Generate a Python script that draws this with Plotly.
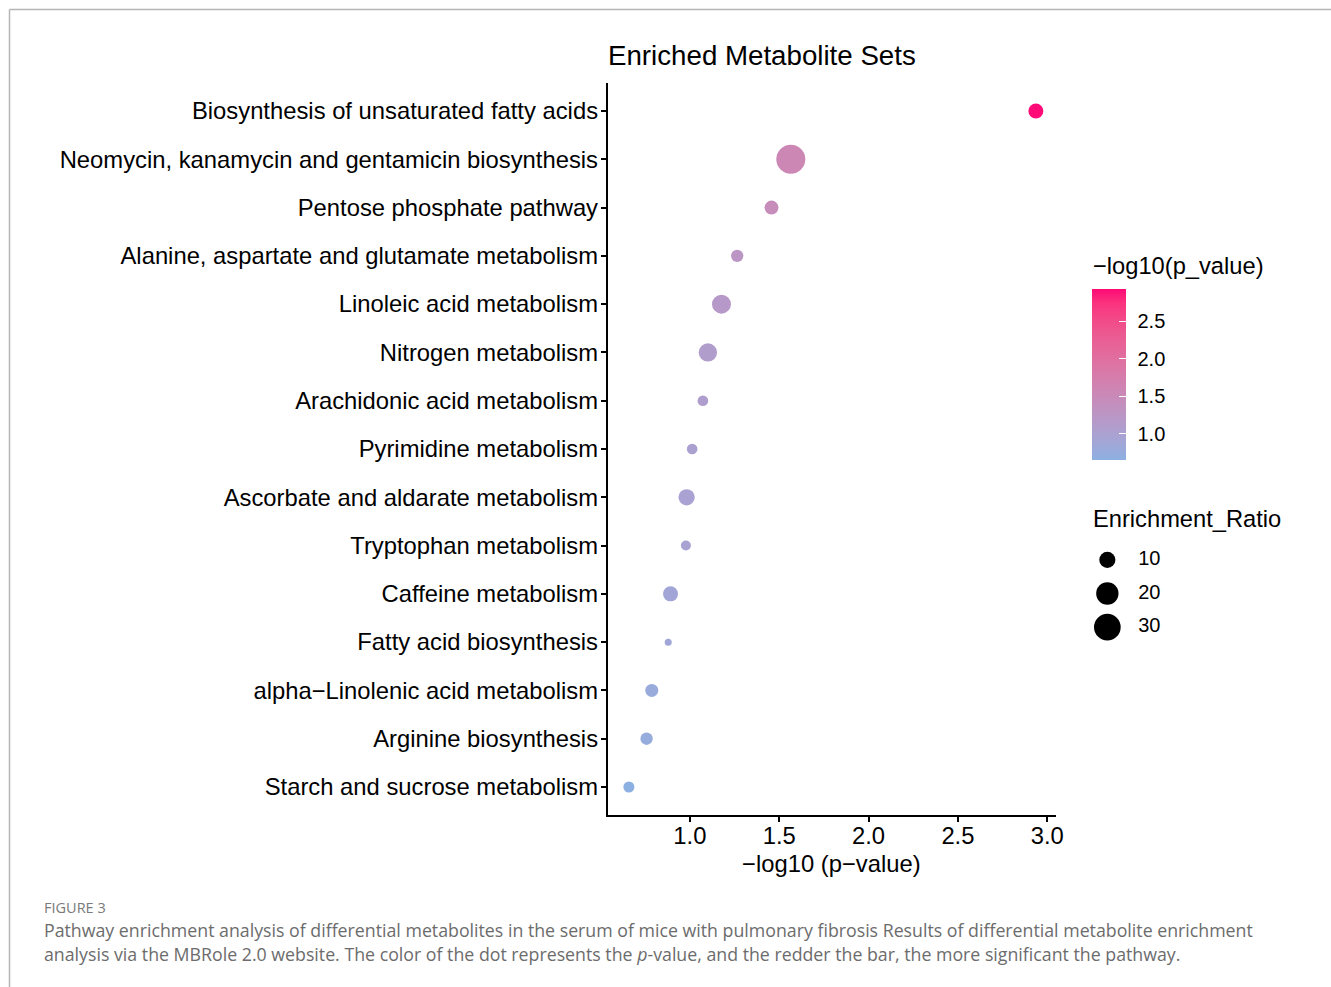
import plotly.graph_objects as go

# ---------------- data ----------------
pathways = [
    "Biosynthesis of unsaturated fatty acids",
    "Neomycin, kanamycin and gentamicin biosynthesis",
    "Pentose phosphate pathway",
    "Alanine, aspartate and glutamate metabolism",
    "Linoleic acid metabolism",
    "Nitrogen metabolism",
    "Arachidonic acid metabolism",
    "Pyrimidine metabolism",
    "Ascorbate and aldarate metabolism",
    "Tryptophan metabolism",
    "Caffeine metabolism",
    "Fatty acid biosynthesis",
    "alpha\u2212Linolenic acid metabolism",
    "Arginine biosynthesis",
    "Starch and sucrose metabolism",
]
neg_log10_p = [2.936, 1.565, 1.457, 1.265, 1.177, 1.101, 1.073, 1.013,
               0.982, 0.978, 0.892, 0.879, 0.787, 0.758, 0.659]
enrichment_ratio = [8.7, 36.5, 7.7, 6.4, 14.0, 13.0, 5.4, 5.4,
                    10.2, 5.1, 8.7, 4.5, 6.9, 6.4, 5.6]
size_breaks = [10, 20, 30]
size_labels = ["10", "20", "30"]
color_ticks = [1.0, 1.5, 2.0, 2.5]
x_ticks = [1.0, 1.5, 2.0, 2.5, 3.0]

# ---------------- styling helpers ----------------
W, H = 1331, 987
SX = 0.9935          # horizontal correction observed in the rendered page
FONT = "Liberation Sans, Arial, sans-serif"
CAP_FONT = "Open Sans, sans-serif"
LOW, HIGH = "#8DB0E2", "#FF0A76"

def px(x):
    return x / (W * SX)

def py(y):
    return (H - y) / H

def _hex2rgb(h):
    h = h.lstrip("#")
    return [int(h[i:i + 2], 16) for i in (0, 2, 4)]

def _rgb2lab(rgb):
    def lin(c):
        c = c / 255
        return c / 12.92 if c <= 0.04045 else ((c + 0.055) / 1.055) ** 2.4
    r, g, b = (lin(c) for c in rgb)
    X = (0.4124 * r + 0.3576 * g + 0.1805 * b) / 0.95047
    Y = (0.2126 * r + 0.7152 * g + 0.0722 * b) / 1.0
    Z = (0.0193 * r + 0.1192 * g + 0.9505 * b) / 1.08883
    def f(t):
        return t ** (1 / 3) if t > 0.008856 else 7.787 * t + 16 / 116
    fx, fy, fz = f(X), f(Y), f(Z)
    return [116 * fy - 16, 500 * (fx - fy), 200 * (fy - fz)]

def _lab2rgb(lab):
    L, a, b = lab
    fy = (L + 16) / 116
    fx = fy + a / 500
    fz = fy - b / 200
    def finv(t):
        return t ** 3 if t ** 3 > 0.008856 else (t - 16 / 116) / 7.787
    X, Y, Z = finv(fx) * 0.95047, finv(fy), finv(fz) * 1.08883
    r = 3.2406 * X - 1.5372 * Y - 0.4986 * Z
    g = -0.9689 * X + 1.8758 * Y + 0.0415 * Z
    bb = 0.0557 * X - 0.2040 * Y + 1.0570 * Z
    def gam(c):
        c = c * 12.92 if c <= 0.0031308 else 1.055 * c ** (1 / 2.4) - 0.055
        return max(0, min(255, round(c * 255)))
    return [gam(r), gam(g), gam(bb)]

lab_lo, lab_hi = _rgb2lab(_hex2rgb(LOW)), _rgb2lab(_hex2rgb(HIGH))
N = 12
colorscale = []
for i in range(N + 1):
    t = i / N
    lab = [lab_lo[k] + (lab_hi[k] - lab_lo[k]) * t for k in range(3)]
    r, g, b = _lab2rgb(lab)
    colorscale.append([t, f"rgb({r},{g},{b})"])

vmin, vmax = min(enrichment_ratio), max(enrichment_ratio)
D_MIN, D_MAX = 7.0, 29.0

def diam(v):
    f = max(0.0, (v - vmin) / (vmax - vmin))
    return D_MIN + (D_MAX - D_MIN) * f ** 0.5

cbar_common = dict(
    x=px(1091), xanchor="left", xpad=0,
    y=py(374), yanchor="middle", ypad=0,
    lenmode="pixels", len=171, thickness=34,
    thicknessmode="pixels", outlinewidth=0,
    tickvals=color_ticks, ticktext=[f"{v:.1f}" for v in color_ticks],
    tickfont=dict(family=FONT, size=20, color="black"),
)

# ---------------- figure ----------------
fig = go.Figure()

fig.add_trace(go.Scatter(
    x=neg_log10_p, y=pathways, mode="markers",
    marker=dict(
        size=[diam(v) for v in enrichment_ratio],
        color=neg_log10_p, colorscale=colorscale,
        cmin=min(neg_log10_p), cmax=max(neg_log10_p),
        line=dict(width=0), opacity=1,
        colorbar=dict(ticks="outside", ticklen=8, tickcolor="rgba(0,0,0,0)",
                      **cbar_common),
    ),
    showlegend=False, hoverinfo="x+y",
))
# overlay colour bar carrying the white inner tick marks
fig.add_trace(go.Scatter(
    x=[None] * len(neg_log10_p), y=[None] * len(neg_log10_p), mode="markers",
    marker=dict(
        color=neg_log10_p, colorscale=colorscale,
        cmin=min(neg_log10_p), cmax=max(neg_log10_p), opacity=1,
        colorbar=dict(ticks="inside", ticklen=7, tickcolor="white", tickwidth=1,
                      showticklabels=False, **cbar_common),
    ),
    showlegend=False, hoverinfo="skip",
))

# size legend (drawn on its own small axes)
fig.add_trace(go.Scatter(
    x=[0] * len(size_breaks), y=size_labels, mode="markers",
    marker=dict(size=[diam(v) for v in size_breaks], color="black",
                opacity=1, line=dict(width=0)),
    xaxis="x2", yaxis="y2", showlegend=False, hoverinfo="skip",
))
fig.add_trace(go.Scatter(
    x=[0.22] * len(size_breaks), y=size_labels, mode="text", text=size_labels,
    textposition="middle right",
    textfont=dict(family=FONT, size=20, color="black"),
    xaxis="x2", yaxis="y2", showlegend=False, hoverinfo="skip",
))

axis_common = dict(
    showline=True, linecolor="black", linewidth=2,
    ticks="outside", ticklen=5, tickwidth=2, tickcolor="black",
    showgrid=False, zeroline=False,
    tickfont=dict(family=FONT, size=23.8, color="black"),
)

fig.update_layout(
    width=W, height=H,
    margin=dict(l=0, r=0, t=0, b=0),
    paper_bgcolor="white", plot_bgcolor="white",
    font=dict(family=FONT, color="black"),
    xaxis=dict(
        domain=[px(607.5), px(1055)],
        range=[0.541, 3.046], tickvals=x_ticks,
        ticktext=[f"{v:.1f}" for v in x_ticks],
        anchor="y", ticklabelstandoff=-7,
        **axis_common,
    ),
    yaxis=dict(
        domain=[py(815), py(83)],
        type="category", categoryorder="array", categoryarray=pathways,
        range=[len(pathways) - 1 + 0.58, -0.58],
        anchor="x", ticklabelstandoff=-2,
        **axis_common,
    ),
    xaxis2=dict(domain=[px(1090), px(1230)], range=[-0.12, 0.88], visible=False,
                anchor="y2", fixedrange=True),
    yaxis2=dict(domain=[py(644), py(543)], type="category",
                categoryorder="array", categoryarray=size_labels,
                range=[2.5, -0.5], visible=False, anchor="x2", fixedrange=True),
)

# frame around the figure panel
fig.add_shape(type="line", xref="paper", yref="paper",
              x0=px(9.5), x1=1.01, y0=py(9.5), y1=py(9.5),
              line=dict(color="#b5b5b5", width=1.5))
fig.add_shape(type="line", xref="paper", yref="paper",
              x0=px(9.5), x1=px(9.5), y0=0, y1=py(9.5),
              line=dict(color="#b5b5b5", width=1.5))

annots = [
    dict(text="Enriched Metabolite Sets", x=px(606), y=py(55), xanchor="left",
         yanchor="middle", font=dict(family=FONT, size=27.7, color="black")),
    dict(text="\u2212log10 (p\u2212value)", x=px(831), y=py(863), xanchor="center",
         yanchor="middle", font=dict(family=FONT, size=23.8, color="black")),
    dict(text="\u2212log10(p_value)", x=px(1090), y=py(266), xanchor="left",
         yanchor="middle", font=dict(family=FONT, size=23.7, color="black")),
    dict(text="Enrichment_Ratio", x=px(1090), y=py(519), xanchor="left",
         yanchor="middle", font=dict(family=FONT, size=23.7, color="black")),
    dict(text="FIGURE 3", x=px(42), y=py(907), xanchor="left", yanchor="middle",
         font=dict(family=CAP_FONT, size=14.5, color="#7a7a7a")),
    dict(text="Pathway enrichment analysis of differential metabolites in the serum of mice with "
              "pulmonary fibrosis Results of differential metabolite enrichment",
         x=px(42), y=py(930), xanchor="left", yanchor="middle",
         font=dict(family=CAP_FONT, size=17.75, color="#6c6c6c")),
    dict(text="analysis via the MBRole 2.0 website. The color of the dot represents the "
              "<i>p</i>-value, and the redder the bar, the more significant the pathway.",
         x=px(42), y=py(954), xanchor="left", yanchor="middle",
         font=dict(family=CAP_FONT, size=17.75, color="#6c6c6c")),
]
for a in annots:
    fig.add_annotation(xref="paper", yref="paper", showarrow=False, **a)

fig.write_html("out.html",
               config={"displayModeBar": False},
               post_script="document.body.style.margin='0';document.body.style.overflow='hidden';")
